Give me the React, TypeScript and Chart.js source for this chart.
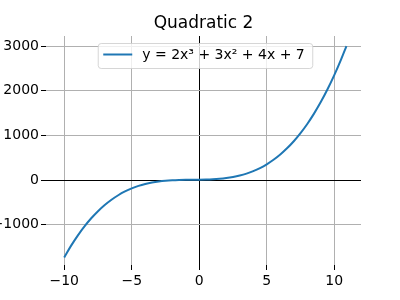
import React, { useEffect, useRef } from "react";
import { Chart, registerables } from "chart.js";

Chart.register(...registerables);

const chartTitle = "Quadratic 2";
const seriesLabel = "y = 2x³ + 3x² + 4x + 7";
const xValues = [
  -10, -9.5, -9, -8.5, -8, -7.5, -7, -6.5, -6, -5.5, -5, -4.5, -4, -3.5, -3, -2.5, -2, -1.5, -1, -0.5,
  0, 0.5, 1, 1.5, 2, 2.5, 3, 3.5, 4, 4.5, 5, 5.5, 6, 6.5, 7, 7.5, 8, 8.5, 9, 9.5, 10, 10.5, 10.9,
];
const yValues = [
  -1733, -1475, -1244, -1038.5, -857, -698, -560, -441.5, -341, -257, -188, -132.5, -89, -56, -32, -15.5, -5, 1, 4, 5.5,
  7, 10, 16, 26.5, 43, 67, 100, 143.5, 199, 268, 352, 452.5, 571, 709, 868, 1049.5, 1255, 1486, 1744, 2030.5, 2347, 2695, 2997,
];
const xTicks = [-10, -5, 0, 5, 10];
const yTicks = [-1000, 0, 1000, 2000, 3000];
const xRange = [-11.35, 11.98];
const yRange = [-1903, 3224];

const fmt = (v: number) => String(v).replace("-", "\u2212");

export default function App() {
  const ref = useRef<HTMLCanvasElement>(null);
  useEffect(() => {
    if (!ref.current) return;
    Chart.defaults.font.family = "'DejaVu Sans', sans-serif";
    const overlay = {
      id: "overlay",
      afterDraw(chart: any) {
        const ctx = chart.ctx;
        const a = chart.chartArea;
        const cx = (a.left + a.right) / 2;
        ctx.save();
        // title
        ctx.fillStyle = "#000";
        ctx.font = "17px 'DejaVu Sans'";
        ctx.textAlign = "center";
        ctx.textBaseline = "alphabetic";
        ctx.fillText(chartTitle, cx, 28);
        // legend
        ctx.font = "14px 'DejaVu Sans'";
        const label = chart.data.datasets[0].label;
        const tw = ctx.measureText(label).width;
        const w = tw + 52;
        const x0 = cx + 2 - w / 2;
        const y0 = a.top + 7.5;
        const h = 25;
        const r = 3;
        ctx.beginPath();
        ctx.moveTo(x0 + r, y0);
        ctx.lineTo(x0 + w - r, y0);
        ctx.quadraticCurveTo(x0 + w, y0, x0 + w, y0 + r);
        ctx.lineTo(x0 + w, y0 + h - r);
        ctx.quadraticCurveTo(x0 + w, y0 + h, x0 + w - r, y0 + h);
        ctx.lineTo(x0 + r, y0 + h);
        ctx.quadraticCurveTo(x0, y0 + h, x0, y0 + h - r);
        ctx.lineTo(x0, y0 + r);
        ctx.quadraticCurveTo(x0, y0, x0 + r, y0);
        ctx.closePath();
        ctx.fillStyle = "rgba(255,255,255,0.8)";
        ctx.fill();
        ctx.strokeStyle = "rgba(204,204,204,0.8)";
        ctx.lineWidth = 1;
        ctx.stroke();
        ctx.beginPath();
        ctx.moveTo(x0 + 5, y0 + 11);
        ctx.lineTo(x0 + 34, y0 + 11);
        ctx.strokeStyle = "#1f77b4";
        ctx.lineWidth = 2;
        ctx.stroke();
        ctx.fillStyle = "#000";
        ctx.textAlign = "left";
        ctx.textBaseline = "middle";
        ctx.fillText(label, x0 + 44, y0 + 12);
        ctx.restore();
      },
    };
    const gridColor = (c: any) => (c.tick && c.tick.value === 0 ? "#000000" : "#b0b0b0");
    const chart = new Chart(ref.current, {
      type: "line",
      data: {
        datasets: [
          {
            label: seriesLabel,
            data: xValues.map((x, i) => ({ x, y: yValues[i] })),
            borderColor: "#1f77b4",
            backgroundColor: "#1f77b4",
            borderWidth: 2,
            pointRadius: 0,
            cubicInterpolationMode: "monotone",
            fill: false,
          },
        ],
      },
      options: {
        animation: false,
        responsive: false,
        devicePixelRatio: 1,
        layout: { padding: { top: 36, right: 39, left: 0, bottom: 0 } },
        plugins: { legend: { display: false }, title: { display: false }, tooltip: { enabled: false } },
        scales: {
          x: {
            type: "linear",
            min: xRange[0],
            max: xRange[1],
            afterBuildTicks: (axis: any) => {
              axis.ticks = xTicks.map((v) => ({ value: v }));
            },
            afterFit: (s: any) => {
              s.height = 35;
            },
            border: { display: false },
            grid: { color: gridColor, lineWidth: 1, tickLength: 5, tickColor: "#000", tickWidth: 1 },
            ticks: {
              color: "#000",
              font: { size: 14 },
              padding: 3,
              maxRotation: 0,
              callback: (v: any) => fmt(v),
            },
          },
          y: {
            type: "linear",
            min: yRange[0],
            max: yRange[1],
            afterBuildTicks: (axis: any) => {
              axis.ticks = yTicks.map((v) => ({ value: v }));
            },
            afterFit: (s: any) => {
              s.width = 46;
            },
            border: { display: false },
            grid: { color: gridColor, lineWidth: 1, tickLength: 5, tickColor: "#000", tickWidth: 1 },
            ticks: {
              color: "#000",
              font: { size: 14 },
              padding: 2,
              callback: (v: any) => fmt(v),
            },
          },
        },
      },
      plugins: [overlay],
    } as any);
    return () => chart.destroy();
  }, []);
  return (
    <div style={{ position: "fixed", left: 0, top: 0, width: 400, height: 300, background: "#fff" }}>
      <canvas ref={ref} width={400} height={300} />
    </div>
  );
}
